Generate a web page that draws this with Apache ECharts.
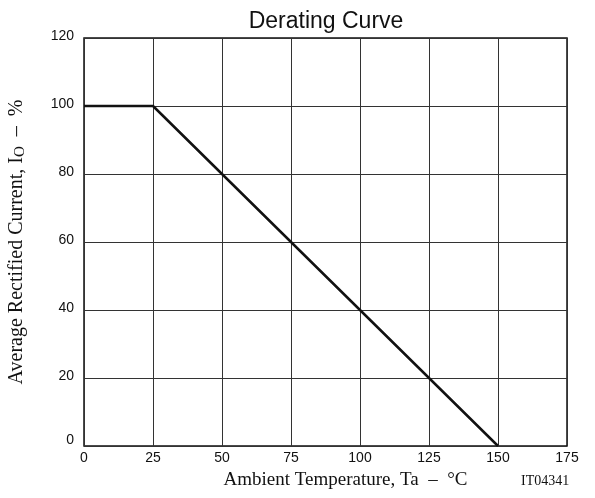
<!DOCTYPE html>
<html><head><meta charset="utf-8">
<script src="https://cdn.jsdelivr.net/npm/echarts@6/dist/echarts.min.js"></script>
<style>html,body{margin:0;padding:0;background:#fff}#c{width:595px;height:498px}</style>
</head><body><div id="c"></div>
<script>
const temps = [0, 25, 150];
const current = [100, 100, 0];
const xTicks = [0, 25, 50, 75, 100, 125, 150, 175];
const yTicks = [0, 20, 40, 60, 80, 100, 120];

const chart = echarts.init(document.getElementById('c'));
chart.setOption({
  animation: false,
  backgroundColor: '#fff',
  title: {
    text: 'Derating Curve', left: 321, top: 5, textAlign: 'center',
    textStyle: { fontFamily: 'Liberation Sans', fontSize: 23, fontWeight: 'normal', color: '#111' }
  },
  graphic: [
    { type: 'text', left: 521, top: 474, style: { text: 'IT04341', font: '14px "Liberation Serif"', fill: '#111' } }
  ],
  grid: { left: 84, right: 28, top: 38, bottom: 52, show: true, borderColor: '#111', borderWidth: 1.5,
          containLabel: false, outerBoundsMode: 'none' },
  xAxis: {
    type: 'value', min: 0, max: 175, interval: 25,
    name: 'Ambient Temperature, Ta  –  °C', nameLocation: 'middle', nameGap: 25,
    nameTextStyle: { fontFamily: 'Liberation Serif', fontSize: 19, color: '#111', padding: [0, 0, 0, 40] },
    axisLine: { show: false }, axisTick: { show: false },
    axisLabel: { fontFamily: 'Liberation Sans', fontSize: 14, color: '#111', margin: 5 },
    splitLine: { lineStyle: { color: '#333', width: 1 } }
  },
  yAxis: {
    type: 'value', min: 0, max: 120, interval: 20,
    name: '{a|Average Rectified Current, I}{s|O}{a|  –  %}', nameLocation: 'middle', nameGap: 56,
    nameTextStyle: { rich: {
      a: { fontFamily: 'Liberation Serif', fontSize: 20, color: '#111' },
      s: { fontFamily: 'Liberation Serif', fontSize: 15, color: '#111', verticalAlign: 'bottom', padding: [8, 0, 0, 0] }
    } },
    axisLine: { show: false }, axisTick: { show: false },
    axisLabel: {
      fontFamily: 'Liberation Sans', fontSize: 14, color: '#111', margin: 10,
      formatter: v => v === 0 ? '{z|0}' : '{n|' + v + '}',
      rich: {
        z: { fontFamily: 'Liberation Sans', fontSize: 14, color: '#111', padding: [0, 0, 12, 0] },
        n: { fontFamily: 'Liberation Sans', fontSize: 14, color: '#111', padding: [0, 0, 3, 0] }
      }
    },
    splitLine: { lineStyle: { color: '#333', width: 1 } }
  },
  series: [{
    type: 'line', data: temps.map((t, i) => [t, current[i]]),
    symbol: 'none', lineStyle: { color: '#111', width: 2.5 }
  }]
});
</script></body></html>
